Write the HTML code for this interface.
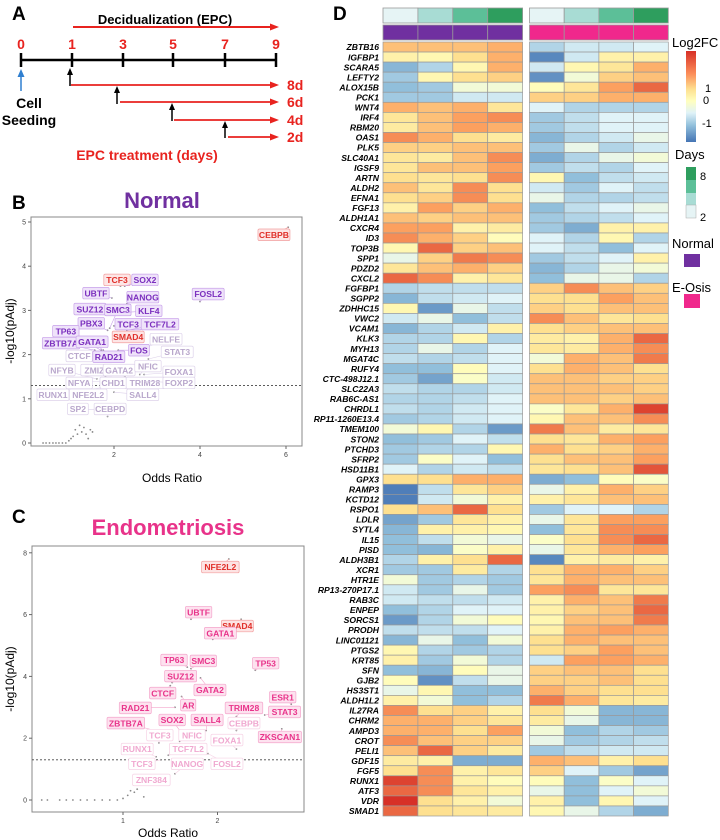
<!DOCTYPE html>
<html><head><meta charset="utf-8"><style>
body{margin:0;background:#fff;}
svg{display:block;font-family:"Liberation Sans",Arial,sans-serif;}
</style></head><body>
<svg id="fig" width="720" height="840" viewBox="0 0 720 840" xmlns="http://www.w3.org/2000/svg">
<defs>
<linearGradient id="cbar" x1="0" y1="0" x2="0" y2="1">
<stop offset="0" stop-color="#d73027"/><stop offset="0.25" stop-color="#fc8d59"/><stop offset="0.42" stop-color="#fee090"/><stop offset="0.55" stop-color="#ffffbf"/><stop offset="0.68" stop-color="#e0f3f8"/><stop offset="0.82" stop-color="#91bfdb"/><stop offset="1" stop-color="#4575b4"/>
</linearGradient>
</defs>

<!-- Panel A -->
<g>
<text x="12" y="20" font-size="19" font-weight="bold">A</text>
<text x="165" y="24" font-size="13" font-weight="bold" text-anchor="middle">Decidualization (EPC)</text>
<g>
<line x1="73" y1="27" x2="272" y2="27" stroke="#e8231f" stroke-width="2"/>
<polygon points="270,23.5 279,27 270,30.5" fill="#e8231f"/>
</g>
<g font-size="14" font-weight="bold" fill="#e8231f" text-anchor="middle">
<text x="21" y="49">0</text><text x="72" y="49">1</text><text x="123" y="49">3</text><text x="173" y="49">5</text><text x="225" y="49">7</text><text x="276" y="49">9</text>
</g>
<g stroke="#000" stroke-width="2.5">
<line x1="20" y1="60" x2="277" y2="60"/>
<line x1="21" y1="53" x2="21" y2="67"/><line x1="72" y1="53" x2="72" y2="67"/><line x1="123" y1="53" x2="123" y2="67"/><line x1="173" y1="53" x2="173" y2="67"/><line x1="225" y1="53" x2="225" y2="67"/><line x1="276" y1="53" x2="276" y2="67"/>
</g>
<g>
<line x1="21" y1="91" x2="21" y2="75" stroke="#2f7fd0" stroke-width="1.5"/>
<polygon points="17.5,77 21,69 24.5,77" fill="#2f7fd0"/>
</g>
<text x="29" y="108" font-size="14" font-weight="bold" text-anchor="middle">Cell</text>
<text x="29" y="125" font-size="14" font-weight="bold" text-anchor="middle">Seeding</text>
<g stroke="#000" stroke-width="1.5">
<line x1="70" y1="86" x2="70" y2="73"/><polygon points="67,75 70,68 73,75" fill="#000" stroke="none"/>
<line x1="117" y1="104" x2="117" y2="91"/><polygon points="114,93 117,86 120,93" fill="#000" stroke="none"/>
<line x1="172" y1="121" x2="172" y2="108"/><polygon points="169,110 172,103 175,110" fill="#000" stroke="none"/>
<line x1="225" y1="138" x2="225" y2="126"/><polygon points="222,128 225,121 228,128" fill="#000" stroke="none"/>
</g>
<g>
<line x1="71" y1="85" x2="272" y2="85" stroke="#e8231f" stroke-width="1.8"/><polygon points="270,81.5 279,85 270,88.5" fill="#e8231f"/>
<line x1="120" y1="102" x2="272" y2="102" stroke="#e8231f" stroke-width="1.8"/><polygon points="270,98.5 279,102 270,105.5" fill="#e8231f"/>
<line x1="174" y1="120" x2="272" y2="120" stroke="#e8231f" stroke-width="1.8"/><polygon points="270,116.5 279,120 270,123.5" fill="#e8231f"/>
<line x1="228" y1="137" x2="272" y2="137" stroke="#e8231f" stroke-width="1.8"/><polygon points="270,133.5 279,137 270,140.5" fill="#e8231f"/>
</g>
<g font-size="14" font-weight="bold" fill="#e8231f">
<text x="287" y="90">8d</text><text x="287" y="107">6d</text><text x="287" y="125">4d</text><text x="287" y="142">2d</text>
</g>
<text x="147" y="160" font-size="14" font-weight="bold" fill="#e8231f" text-anchor="middle">EPC treatment (days)</text>
</g>

<!-- Panel B -->
<g id="panelB">
<text x="12" y="209" font-size="19" font-weight="bold">B</text>
<text x="162" y="208" font-size="22" font-weight="bold" fill="#7030a0" text-anchor="middle">Normal</text>
<rect x="31" y="217" width="271" height="229" fill="none" stroke="#888"/>
<text x="172" y="482" font-size="12" text-anchor="middle">Odds Ratio</text>
<text transform="translate(14,331) rotate(-90)" font-size="12" text-anchor="middle">-log10(pAdj)</text>
</g>

<!-- Panel C -->
<g id="panelC">
<text x="12" y="523" font-size="19" font-weight="bold">C</text>
<text x="168" y="535" font-size="22" font-weight="bold" fill="#e8338a" text-anchor="middle">Endometriosis</text>
<rect x="32" y="546" width="272" height="266" fill="none" stroke="#888"/>
<text x="168" y="837" font-size="12" text-anchor="middle">Odds Ratio</text>
<text transform="translate(14,679) rotate(-90)" font-size="12" text-anchor="middle">-log10(pAdj)</text>
</g>

<!-- Panel D -->
<g id="panelD">
<text x="333" y="20" font-size="19" font-weight="bold">D</text>
</g>
<g>
<text x="672" y="47" font-size="13">Log2FC</text>
<rect x="686" y="51" width="10" height="91" fill="url(#cbar)"/>
<g font-size="11"><text x="705" y="92">1</text><text x="703" y="104">0</text><text x="702" y="127">-1</text></g>
<text x="675" y="159" font-size="13">Days</text>
<rect x="686" y="167" width="10" height="13" fill="#2e9e5e"/>
<rect x="686" y="180" width="10" height="13" fill="#5cbf98"/>
<rect x="686" y="193" width="10" height="12" fill="#a8dcd4"/>
<rect x="686" y="205" width="10" height="13" fill="#e6f4f5" stroke="#aaa" stroke-width="0.5"/>
<text x="700" y="180" font-size="11">8</text>
<text x="700" y="221" font-size="11">2</text>
<text x="672" y="248" font-size="13">Normal</text>
<rect x="684" y="254" width="16" height="13" fill="#7030a0"/>
<text x="672" y="292" font-size="13">E-Osis</text>
<rect x="684" y="294" width="16" height="14" fill="#f0288c"/>
</g>
</svg>
<script>
// ===== Panel B data =====
const bTicksX = [2, 4, 6];
const bTicksY = [0, 1, 2, 3, 4, 5];
const bPointOdds = [6.05,2.15,2.25,1.95,2.3,4.0,1.85,1.9,2.2,1.85,2.0,2.3,1.7,2.05,1.75,2.1,1.95,1.55,1.6,2.6,2.8,2.6,2.7,2.25,1.8,1.6,1.7,1.9,2.5,2.7,2.0,1.75,1.7,1.6,1.85,0.35,0.42,0.5,0.58,0.65,0.72,0.8,0.88,0.95,1.0,1.05,1.1,1.15,1.2,1.25,1.3,1.35,1.4,1.45,1.5];
const bPointP = [4.88,3.55,3.55,3.28,3.15,3.2,2.9,2.6,2.95,2.55,2.65,2.55,2.1,2.35,2.1,2.1,2.05,2.1,2.05,2.1,1.9,1.55,1.55,1.5,1.5,1.45,1.4,1.4,1.45,1.4,1.15,1.2,1.25,0.75,0.6,0,0,0,0,0,0,0,0,0.05,0.1,0.15,0.3,0.2,0.4,0.25,0.35,0.2,0.1,0.3,0.25];
const bLabelNames = ["CEBPB","TCF3","SOX2","UBTF","NANOG","FOSL2","SUZ12","SMC3","KLF4","PBX3","TCF3","TCF7L2","TP63","SMAD4","NELFE","ZBTB7A","GATA1","FOS","STAT3","CTCF","RAD21","NFYB","ZMIZ1","GATA2","NFIC","FOXA1","NFYA","CHD1","TRIM28","FOXP2","RUNX1","NFE2L2","SALL4","SP2","CEBPD"];
const bLabelOdds = [5.72,2.07,2.72,1.58,2.67,4.19,1.44,2.09,2.81,1.47,2.33,3.07,0.88,2.33,3.21,0.77,1.49,2.58,3.47,1.19,1.88,0.79,1.6,2.12,2.79,3.51,1.19,1.98,2.72,3.51,0.58,1.4,2.67,1.16,1.91];
const bLabelP = [4.71,3.69,3.69,3.39,3.3,3.37,3.03,3.01,2.99,2.71,2.69,2.69,2.53,2.4,2.35,2.26,2.29,2.1,2.06,1.97,1.95,1.65,1.65,1.65,1.74,1.61,1.36,1.36,1.36,1.36,1.09,1.09,1.09,0.77,0.77];
const bLabelPoint = [0,1,2,3,4,5,6,7,8,9,10,11,12,13,19,17,14,15,20,18,16,25,24,23,21,22,26,27,28,29,32,31,30,33,34];
const bLabelKind = ["r","r","s","s","s","s","s","s","s","s","s","s","s","r","l","s","s","s","l","l","s","l","l","l","l","l","l","l","l","l","l","l","l","l","l"];
const bThreshold = 1.3;

// ===== Panel C data =====
const cTicksX = [1, 2];
const cTicksY = [0, 2, 4, 6, 8];
const cPointOdds = [2.12,1.72,2.25,1.95,1.68,1.72,2.4,1.52,1.82,1.5,1.62,1.55,2.78,2.5,2.2,1.6,1.88,1.4,2.68,2.2,1.38,1.6,2.2,1.35,1.48,1.4,1.55,1.9,1.18,0.14,0.2,0.33,0.4,0.47,0.55,0.62,0.7,0.78,0.86,0.94,1.0,1.05,1.08,1.12,1.15,1.22];
const cPointP = [7.8,5.85,5.85,5.2,4.3,4.25,4.2,3.8,3.95,3.7,3.35,3.0,3.1,2.75,2.7,2.25,2.25,2.2,2.3,2.25,1.85,1.9,1.65,1.4,1.45,1.3,0.85,1.5,0.5,0,0,0,0,0,0,0,0,0,0,0,0.05,0.15,0.3,0.25,0.35,0.1];
const cLabelNames = ["NFE2L2","UBTF","SMAD4","GATA1","TP63","SMC3","TP53","SUZ12","GATA2","CTCF","ESR1","RAD21","AR","TRIM28","STAT3","ZBTB7A","SOX2","SALL4","CEBPB","TCF3","NFIC","FOXA1","ZKSCAN1","RUNX1","TCF7L2","TCF3","NANOG","FOSL2","ZNF384"];
const cLabelOdds = [2.03,1.8,2.21,2.03,1.54,1.85,2.51,1.61,1.92,1.42,2.69,1.13,1.69,2.28,2.71,1.03,1.52,1.89,2.28,1.39,1.73,2.1,2.66,1.15,1.69,1.2,1.68,2.1,1.3];
const cLabelP = [7.54,6.08,5.63,5.4,4.53,4.5,4.43,4.01,3.56,3.46,3.33,2.98,3.07,2.98,2.85,2.49,2.59,2.59,2.49,2.1,2.1,1.94,2.04,1.65,1.65,1.17,1.17,1.17,0.65];
const cLabelPoint = [0,1,2,3,4,5,6,7,8,9,12,11,10,14,13,17,15,16,19,20,21,22,18,23,24,25,26,27,28];
const cLabelKind = ["r","s","r","s","s","s","s","s","s","s","s","s","s","s","s","s","s","s","l","l","l","l","s","l","l","l","l","l","l"];
const cThreshold = 1.3;

// ===== Panel D data =====
const genes = ["ZBTB16","IGFBP1","SCARA5","LEFTY2","ALOX15B","PCK1","WNT4","IRF4","RBM20","OAS1","PLK5","SLC40A1","IGSF9","ARTN","ALDH2","EFNA1","FGF13","ALDH1A1","CXCR4","ID3","TOP3B","SPP1","PDZD2","CXCL2","FGFBP1","SGPP2","ZDHHC15","VWC2","VCAM1","KLK3","MYH13","MGAT4C","RUFY4","CTC-498J12.1","SLC22A3","RAB6C-AS1","CHRDL1","RP11-1260E13.4","TMEM100","STON2","PTCHD3","SFRP2","HSD11B1","GPX3","RAMP3","KCTD12","RSPO1","LDLR","SYTL4","IL15","PISD","ALDH3B1","XCR1","HTR1E","RP13-270P17.1","RAB3C","ENPEP","SORCS1","PRODH","LINC01121","PTGS2","KRT85","SFN","GJB2","HS3ST1","ALDH1L2","IL27RA","CHRM2","AMPD3","CROT","PELI1","GDF15","FGF5","RUNX1","ATF3","VDR","SMAD1"];
const dayLevels = [2, 4, 6, 8];
const groups = ["Normal","E-Osis"];
const normalFC = [
[0.8,0.8,0.8,0.9],[0.3,0.2,0.6,0.9],[-0.9,-0.6,0.2,0.9],[-0.7,0.2,0.6,0.7],[-0.8,-0.7,-0.1,-0.1],[-0.7,-0.7,-0.4,-0.4],[0.9,0.8,0.9,0.5],[0.5,0.8,1.0,1.1],[0.4,0.8,1.0,0.9],[1.1,0.9,0.6,0.4],
[0.7,0.7,0.8,0.8],[0.5,0.4,0.8,1.1],[0.5,0.8,0.8,1.0],[0.6,0.5,0.6,1.1],[0.8,0.5,1.1,0.6],[0.6,0.7,1.1,0.6],[0.3,1.0,0.7,0.9],[0.8,0.7,0.8,0.8],[1.0,1.0,0.3,0.4],[1.1,0.9,0.7,0.1],
[0.2,1.3,0.7,0.8],[-0.2,0.7,1.2,1.1],[0.5,0.8,0.9,0.7],[1.3,1.1,0.3,0.5],[-0.6,-0.5,-0.5,-0.5],[-0.9,-0.5,-0.4,-0.3],[0.2,-1.2,-0.2,-0.5],[-0.4,-0.2,-0.8,-0.5],[-0.9,-0.6,-0.4,0.3],[-0.6,-0.6,0.2,-0.6],
[-0.6,-0.2,-0.6,-0.3],[-0.5,-0.6,-0.5,-0.3],[-0.8,-0.8,0.1,-0.3],[-0.7,-1.1,0.0,-0.4],[-0.5,-0.6,-0.6,-0.4],[-0.6,-0.6,-0.5,-0.3],[-0.5,-0.6,-0.4,-0.3],[-0.7,-0.6,-0.4,-0.3],[-0.1,0.2,-0.6,-1.2],[-0.8,-0.7,-0.3,-0.5],
[-0.7,-0.6,-0.6,0.2],[-0.7,0.0,-0.3,-0.8],[-0.3,-0.6,-0.4,-0.5],[0.6,0.6,0.9,0.9],[-1.5,-0.5,0.5,0.7],[-1.5,-0.4,-0.1,0.3],[0.6,0.8,1.3,0.6],[-1.1,-0.7,0.5,0.3],[-0.9,0.3,0.3,0.2],[-0.8,-0.5,-0.1,-0.2],
[-0.8,-0.9,0.0,0.3],[-0.6,0.3,0.6,1.3],[-0.7,-0.7,0.4,-0.6],[-0.1,-0.7,-0.6,-0.7],[-0.4,-0.7,-0.2,-0.7],[-0.4,-0.5,-0.5,-0.4],[-0.8,-0.6,-0.3,-0.3],[-1.2,-0.6,-0.1,0.1],[-0.5,-0.5,-0.5,-0.3],[-0.9,-0.2,-0.8,-0.1],
[0.2,-0.6,-0.7,-0.6],[0.3,-0.7,-0.1,-0.6],[-0.8,-0.9,0.1,-0.2],[0.1,-1.3,-0.5,-0.2],[-0.2,0.2,-0.8,-0.8],[0.3,-0.1,-0.8,-0.6],[1.1,0.6,0.7,0.3],[0.9,0.9,0.7,0.5],[0.9,0.9,0.6,1.0],[1.1,0.8,0.7,0.7],
[0.8,1.3,0.7,0.4],[0.4,0.3,-1.0,-1.0],[0.6,1.1,0.3,0.5],[1.5,1.1,0.3,0.1],[1.3,1.1,0.5,0.3],[1.7,0.6,0.3,-0.1],[1.3,0.6,0.5,0.4]];
const eosisFC = [
[-0.6,-0.4,-0.4,-0.3],[-1.4,-0.4,0.3,0.3],[-0.4,0.2,0.5,0.9],[-1.3,-0.1,0.7,0.8],[0.1,0.5,1.0,1.3],[0.7,0.7,0.9,0.9],[-0.3,-0.6,-0.6,-0.6],[-0.7,-0.5,-0.3,-0.3],[-0.7,-0.5,-0.3,-0.3],[-0.9,-0.6,-0.4,-0.2],
[-0.7,-0.2,-0.6,-0.4],[-1.0,-0.6,-0.2,-0.1],[-0.7,-0.5,-0.6,-0.3],[0.2,-0.8,-0.5,-0.4],[-0.4,-0.7,-0.3,-0.5],[-0.2,-0.6,-0.6,-0.5],[-0.8,-0.5,-0.3,-0.2],[-0.7,-0.6,-0.5,-0.3],[-0.7,-1.0,0.3,0.3],[-0.3,-0.6,0.2,-0.6],
[-0.3,-0.5,-0.8,-0.3],[-0.7,-0.5,-0.3,0.3],[-0.9,-0.6,-0.2,-0.1],[-0.8,-0.2,-0.2,-0.6],[0.7,1.1,0.8,0.7],[0.6,0.6,1.0,0.8],[0.7,0.6,0.8,0.8],[1.1,0.8,0.5,0.6],[0.6,0.7,0.8,0.8],[0.4,0.3,0.9,1.3],
[0.5,0.4,0.9,1.1],[-0.1,0.9,0.8,1.2],[0.6,0.9,0.8,0.6],[0.8,0.8,0.7,0.7],[0.8,0.8,0.8,0.7],[0.8,0.8,0.7,0.8],[0.0,0.5,0.9,1.5],[0.2,0.8,0.8,1.1],[1.2,0.8,0.4,0.5],[0.6,0.5,0.9,1.0],
[0.9,0.6,0.7,0.9],[0.6,0.8,0.8,1.0],[0.5,0.6,0.8,1.4],[-1.0,-0.8,0.1,0.0],[-0.2,0.3,0.9,0.7],[0.3,0.5,0.8,0.8],[-0.7,-0.3,-0.3,-0.6],[-0.2,0.5,1.0,1.0],[-0.8,0.5,1.1,1.1],[0.0,0.6,1.1,1.3],
[-0.2,0.5,0.9,1.0],[-1.4,0.3,0.4,0.3],[0.6,0.9,0.9,0.7],[0.5,0.9,0.8,0.8],[1.0,1.1,0.5,0.5],[0.3,0.9,0.8,1.2],[0.3,0.7,0.8,1.3],[0.2,0.8,0.8,1.2],[0.3,0.9,1.0,0.9],[0.6,0.9,0.8,0.8],
[0.6,0.7,1.0,0.8],[-0.4,1.0,1.0,0.9],[0.7,0.8,0.8,0.6],[0.7,0.7,0.8,0.6],[0.9,0.7,0.6,0.6],[1.2,0.9,0.5,0.4],[0.6,-0.1,-0.9,-0.9],[0.4,-0.2,-0.9,-0.9],[-0.1,-0.8,-0.6,-0.7],[-0.2,-0.7,-0.6,-0.5],
[-0.7,-0.5,-0.4,-0.4],[0.9,0.8,0.3,0.6],[0.7,-0.3,-0.7,-1.1],[0.1,-0.8,0.0,-0.3],[-0.2,-0.8,-0.3,-0.1],[0.3,-0.8,0.2,-0.3],[0.2,-0.2,-0.6,-1.0]];

const NS = "http://www.w3.org/2000/svg";
const svg = document.getElementById('fig');
function mk(tag, attrs, parent){ const e=document.createElementNS(NS,tag); for(const k in attrs) e.setAttribute(k,attrs[k]); (parent||svg).appendChild(e); return e; }

const kindStyle = {
  r:{text:"#e0302a",fill:"#fde6e6",stroke:"#f2a0a0"},
  s:{text:"#7b2fbe",fill:"#efe3fa",stroke:"#c9a3ea"},
  l:{text:"#b9a7cc",fill:"#ffffff",stroke:"#ddd2ea"}
};
const kindStyleC = {
  r:{text:"#e0302a",fill:"#fde3e3",stroke:"#f2a0a0"},
  s:{text:"#e8338a",fill:"#fde2ef",stroke:"#f4a6cc"},
  l:{text:"#f0a8d0",fill:"#ffffff",stroke:"#f6d2e5"}
};

function scatter(cfg){
  const g = document.getElementById(cfg.id);
  const xs = v => cfg.x0 + (v - cfg.xv0) * cfg.xk;
  const ys = v => cfg.y0 - v * cfg.yk;
  cfg.ticksX.forEach(t=>{
    const l=mk('line',{x1:xs(t),x2:xs(t),y1:cfg.bottom,y2:cfg.bottom+3,stroke:'#666'},g);
    
    
    const tx=mk('text',{x:xs(t),y:cfg.bottom+11,'font-size':7,'text-anchor':'middle',fill:'#444'},g);
    tx.textContent=t;
    
    
  });
  cfg.ticksY.forEach(t=>{
    const l=mk('line',{x1:cfg.left-3,x2:cfg.left,y1:ys(t),y2:ys(t),stroke:'#666'},g);
    
    
    const tx=mk('text',{x:cfg.left-5,y:ys(t)+2.5,'font-size':7,'text-anchor':'end',fill:'#444'},g);
    tx.textContent=t;
    
    
  });
  const th=mk('line',{x1:cfg.left,x2:cfg.right,y1:ys(cfg.thr),y2:ys(cfg.thr),stroke:'#444','stroke-dasharray':'2,2','stroke-width':0.8},g);
  
  
  cfg.px.forEach((v,i)=>{
    const c=mk('circle',{cx:xs(v),cy:ys(cfg.py[i]),r:0.9,fill:'#888'},g);
    
    
  });
  cfg.ln.forEach((name,i)=>{
    const st=cfg.styles[cfg.lk[i]];
    const cx=xs(cfg.lx[i]), cy=ys(cfg.ly[i]);
    const p=cfg.lp[i];
    const ln=mk('line',{x1:cx,y1:cy,x2:xs(cfg.px[p]),y2:ys(cfg.py[p]),stroke:st.stroke,'stroke-width':0.6},g);
    
    
    const w=name.length*5.6+4;
    const r=mk('rect',{x:cx-w/2,y:cy-5.8,width:w,height:11.6,rx:1.5,fill:st.fill,stroke:st.stroke,'stroke-width':0.7},g);
    
    
    const t=mk('text',{x:cx,y:cy+3.2,'font-size':8.6,'font-weight':'bold','text-anchor':'middle',fill:st.text},g);
    t.textContent=name;
    
    
  });
}
scatter({id:'panelB',x0:114,xv0:2,xk:43,y0:443,yk:44.2,left:31,right:302,bottom:446,ticksX:bTicksX,ticksY:bTicksY,thr:bThreshold,px:bPointOdds,py:bPointP,ln:bLabelNames,lx:bLabelOdds,ly:bLabelP,lp:bLabelPoint,lk:bLabelKind,styles:kindStyle});
scatter({id:'panelC',x0:123,xv0:1,xk:94.5,y0:800,yk:30.9,left:32,right:304,bottom:812,ticksX:cTicksX,ticksY:cTicksY,thr:cThreshold,px:cPointOdds,py:cPointP,ln:cLabelNames,lx:cLabelOdds,ly:cLabelP,lp:cLabelPoint,lk:cLabelKind,styles:kindStyleC});

// heatmap
const stops=[[-1.6,[69,117,180]],[-0.8,[145,191,219]],[-0.3,[224,243,248]],[0.05,[255,255,191]],[0.6,[254,224,144]],[1.0,[252,160,95]],[1.6,[215,48,39]]];
function col(v){
  if(v<=stops[0][0]) return 'rgb('+stops[0][1]+')';
  for(let i=1;i<stops.length;i++){
    if(v<=stops[i][0]){
      const a=stops[i-1],b=stops[i],t=(v-a[0])/(b[0]-a[0]);
      const c=a[1].map((x,j)=>Math.round(x+(b[1][j]-x)*t));
      return 'rgb('+c+')';
    }
  }
  return 'rgb('+stops[stops.length-1][1]+')';
}
const gD=document.getElementById('panelD');
const top0=42, rowH=774/genes.length;
const blockX=[383,529.5], cellW=[34.9,34.7];
const dayCol={2:'#e6f4f5',4:'#a8dcd4',6:'#5cbf98',8:'#2e9e5e'};
const grpCol=['#7030a0','#f0288c'];
[normalFC,eosisFC].forEach((data,b)=>{
  dayLevels.forEach((d,j)=>{
    const r=mk('rect',{x:blockX[b]+j*cellW[b],y:8,width:cellW[b],height:15,fill:dayCol[d],stroke:'#999','stroke-width':0.8},gD);
    
    
    const r2=mk('rect',{x:blockX[b]+j*cellW[b],y:25,width:cellW[b],height:15,fill:grpCol[b],stroke:'#999','stroke-width':0.8},gD);
    
    
  });
  data.forEach((row,i)=>{
    row.forEach((v,j)=>{
      const r=mk('rect',{x:blockX[b]+j*cellW[b],y:top0+i*rowH,width:cellW[b],height:rowH,fill:col(v),stroke:'#999','stroke-width':0.7},gD);
      
      
    });
  });
});
genes.forEach((g,i)=>{
  const t=mk('text',{x:379,y:top0+i*rowH+rowH/2+3.2,'font-size':8.6,'font-weight':'bold','font-style':'italic','text-anchor':'end'},gD);
  t.textContent=g;
  
  
});
</script>
</body></html>
